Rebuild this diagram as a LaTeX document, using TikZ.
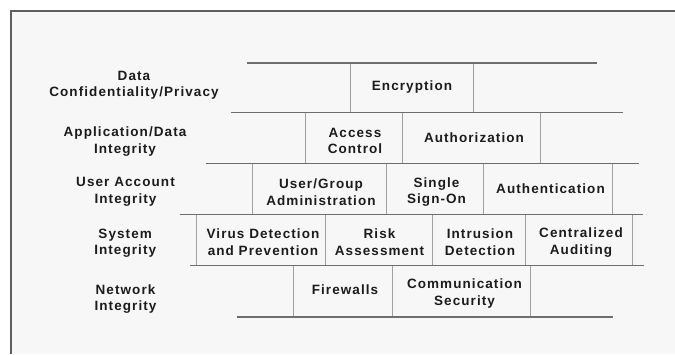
\documentclass[tikz,border=0pt]{standalone}
\usepackage{fontspec}
\setmainfont{Liberation Sans}[LetterSpace=8.0]
\definecolor{bgin}{RGB}{247,247,247}
\definecolor{framec}{RGB}{95,95,95}
\definecolor{hlc}{RGB}{110,110,110}
\definecolor{vlc}{RGB}{160,160,160}
\definecolor{txt}{RGB}{28,28,28}
\tikzset{
  lbl/.style={font=\fontsize{13.5}{16.5}\selectfont\bfseries, align=center, inner sep=0pt, text=txt},
  hline/.style={draw=hlc, line width=1.6pt},
  vline/.style={draw=vlc, line width=0.8pt},
  framestyle/.style={draw=framec, line width=1.6pt}
}
\begin{document}
\begin{tikzpicture}[x=1pt,y=-1pt]
\useasboundingbox (0,0) rectangle (675,354);
\fill[white] (0,0) rectangle (675,354);
\fill[bgin] (11,11) rectangle (675,354);
\coordinate (fb) at (11,354);
\coordinate (fc) at (11,11);
\coordinate (fr) at (675,11);
\draw[framestyle] (fb) -- (fc) -- (fr);

% row y levels
\def\ya{62.7}\def\yb{112.3}\def\yc{163.5}\def\yd{214.3}\def\ye{265.5}\def\yf{316.7}

% vertical separators
\foreach \x in {350.5,473.5} \draw[vline] (\x,\ya) -- (\x,\yb);
\foreach \x in {305,402.3,540.3} \draw[vline] (\x,\yb) -- (\x,\yc);
\foreach \x in {252.7,386.5,483.3,612.7} \draw[vline] (\x,\yc) -- (\x,\yd);
\foreach \x in {196.7,325,432.7,525.7,632.7} \draw[vline] (\x,\yd) -- (\x,\ye);
\foreach \x in {293.3,392.3,530.7} \draw[vline] (\x,\ye) -- (\x,\yf);

% horizontal layer lines
\coordinate (l1a) at (246.5,\ya); \coordinate (l1b) at (596.7,\ya);
\coordinate (l2a) at (231,\yb);   \coordinate (l2b) at (622.6,\yb);
\coordinate (l3a) at (205.7,\yc); \coordinate (l3b) at (639.3,\yc);
\coordinate (l4a) at (179.5,\yd); \coordinate (l4b) at (643.3,\yd);
\coordinate (l5a) at (190,\ye);   \coordinate (l5b) at (643.7,\ye);
\coordinate (l6a) at (236.5,\yf); \coordinate (l6b) at (613,\yf);
\draw[hline] (l1a) -- (l1b);
\draw[hline] (l2a) -- (l2b);
\draw[hline] (l3a) -- (l3b);
\draw[hline] (l4a) -- (l4b);
\draw[hline] (l5a) -- (l5b);
\draw[hline] (l6a) -- (l6b);

% row labels
\node[lbl] (r1) at (134,85.5) {Data\\Confidentiality/Privacy};
\node[lbl] (r2) at (125,141.6) {Application/Data\\Integrity};
\node[lbl] (r3) at (125.5,191.7) {User Account\\Integrity};
\node[lbl] (r4) at (125.2,243) {System\\Integrity};
\node[lbl] (r5) at (125.5,299) {Network\\Integrity};

% cells
\node[lbl] (enc) at (412,87) {Encryption};
\node[lbl] (acc) at (355,141) {Access\\Control};
\node[lbl] (aut) at (474,138) {Authorization};
\node[lbl] (usr) at (321,192) {User/Group\\Administration};
\node[lbl] (sso) at (436.5,192) {Single\\Sign-On};
\node[lbl] (ath) at (550.5,189) {Authentication};
\node[lbl] (vir) at (263,242.3) {Virus Detection\\and Prevention};
\node[lbl] (risk) at (379.5,242.3) {Risk\\Assessment};
\node[lbl] (ids) at (480,242.3) {Intrusion\\Detection};
\node[lbl] (cen) at (581,242.3) {Centralized\\Auditing};
\node[lbl] (fw) at (345,290) {Firewalls};
\node[lbl] (com) at (464.5,293.3) {Communication\\Security};
\end{tikzpicture}
\end{document}
